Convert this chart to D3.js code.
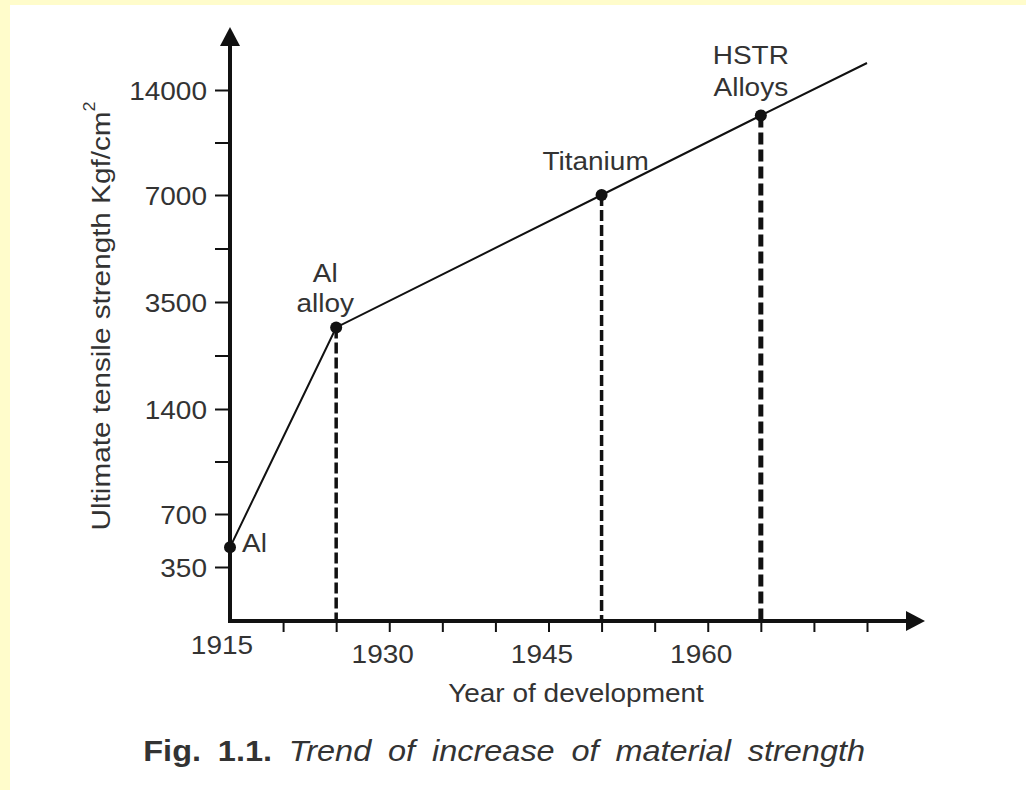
<!DOCTYPE html>
<html>
<head>
<meta charset="utf-8">
<script src="https://cdn.jsdelivr.net/npm/d3@7"></script>
<style>
  html, body { margin: 0; padding: 0; background: #fff; }
  svg { display: block; font-family: "Liberation Sans", Arial, Helvetica, sans-serif; }
</style>
</head>
<body>
<div id="chart"></div>
<script>
// data
const materials = ["Al", "Al alloy", "Titanium", "HSTR Alloys"];
const years = [1915, 1925, 1950, 1965];
const strengths = [480, 3000, 7000, 12300];
const trendEndYear = 1975;
const trendEndStrength = 15800;

const yMajorTicks = [350, 700, 1400, 3500, 7000, 14000];
const yMinorTicks = [1050, 2450, 5250, 10500];
const xTicks = [1920, 1925, 1930, 1935, 1940, 1945, 1950, 1955, 1960, 1965, 1970, 1975];
const xLabelled = [1930, 1945, 1960];
const xOrigin = 1915;

// label placement (offsets from the point, lines of text)
const labelLayout = [
  { lines: ["Al"], dx: 12, dy: [5], anchor: "start" },
  { lines: ["Al", "alloy"], dx: -11, dy: [-45, -15], anchor: "middle" },
  { lines: ["Titanium"], dx: -6, dy: [-25], anchor: "middle" },
  { lines: ["HSTR", "Alloys"], dx: -10, dy: [-52, -20], anchor: "middle" },
];

const width = 1026;
const height = 790;
const SX = 1.12; // the scan is slightly stretched horizontally
const ink = "#111";
const textInk = "#333";

const svg = d3.select("#chart")
  .append("svg")
  .attr("width", width)
  .attr("height", height)
  .attr("viewBox", `0 0 ${width} ${height}`);

// pale yellow page edge
svg.append("rect").attr("width", width).attr("height", height).attr("fill", "#fffccb");
svg.append("rect").attr("x", 10).attr("y", 5).attr("width", width - 10).attr("height", height - 5).attr("fill", "#fff");

const x = d3.scaleLinear().domain([1915, 1975]).range([230, 867]);
// the original axis is not linear: piecewise stops
const y = d3.scaleLinear()
  .domain([0, 350, 700, 1400, 3500, 7000, 14000, 21000])
  .range([621, 567, 514, 409, 302, 195, 90, -15]);

function stretchText(sel, tx, ty, extra = "") {
  return sel.attr("transform", `translate(${tx},${ty}) ${extra} scale(${SX},1)`);
}

// y axis ticks
const yAxis = d3.axisLeft(y)
  .tickValues([...yMajorTicks, ...yMinorTicks])
  .tickSize(15)
  .tickPadding(8)
  .tickFormat((d) => (yMajorTicks.includes(d) ? d : ""));

const gy = svg.append("g").attr("transform", `translate(${x(xOrigin)},0)`).call(yAxis);
gy.select(".domain").remove();
gy.selectAll(".tick line").attr("stroke", ink).attr("stroke-width", 2);
gy.selectAll(".tick text")
  .attr("font-size", 25)
  .attr("fill", textInk)
  .attr("dy", "0.36em")
  .attr("x", -23 / SX)
  .attr("transform", `scale(${SX},1)`);

// x axis ticks
const xAxis = d3.axisBottom(x)
  .tickValues(xTicks)
  .tickSize(11)
  .tickFormat((d) => (xLabelled.includes(d) ? d : ""));

const gx = svg.append("g").attr("transform", `translate(0,${y(0)})`).call(xAxis);
gx.select(".domain").remove();
gx.selectAll(".tick line").attr("stroke", ink).attr("stroke-width", 2);
gx.selectAll(".tick text")
  .attr("font-size", 25)
  .attr("fill", textInk)
  .attr("dy", null)
  .attr("y", 42)
  .attr("x", -7 / SX)
  .attr("transform", `scale(${SX},1)`);

stretchText(
  svg.append("text").attr("font-size", 25).attr("fill", textInk).attr("text-anchor", "middle").text(xOrigin),
  x(xOrigin) - 8, y(0) + 33
);

// axis lines with arrow heads
const ox = x(xOrigin);
const oy = y(0);
svg.append("line")
  .attr("x1", ox).attr("y1", oy + 2).attr("x2", ox).attr("y2", 40)
  .attr("stroke", ink).attr("stroke-width", 4);
svg.append("path")
  .attr("d", `M${ox},27 L${ox - 10},46 L${ox + 10},46 Z`)
  .attr("fill", ink);
svg.append("line")
  .attr("x1", ox - 2).attr("y1", oy).attr("x2", 912).attr("y2", oy)
  .attr("stroke", ink).attr("stroke-width", 4);
svg.append("path")
  .attr("d", `M925,${oy} L906,${oy - 10} L906,${oy + 10} Z`)
  .attr("fill", ink);

// dashed drop lines
const dropStyle = [null, { w: 3.5, dash: "11 4" }, { w: 3.5, dash: "11 4" }, { w: 5, dash: "12 5" }];
years.forEach((yr, i) => {
  if (!dropStyle[i]) return;
  svg.append("line")
    .attr("x1", x(yr)).attr("x2", x(yr))
    .attr("y1", y(strengths[i])).attr("y2", y(0))
    .attr("stroke", ink)
    .attr("stroke-width", dropStyle[i].w)
    .attr("stroke-dasharray", dropStyle[i].dash);
});

// trend line
const pts = years.map((yr, i) => [yr, strengths[i]]).concat([[trendEndYear, trendEndStrength]]);
const line = d3.line().x((d) => x(d[0])).y((d) => y(d[1]));
svg.append("path")
  .attr("d", line(pts))
  .attr("fill", "none")
  .attr("stroke", ink)
  .attr("stroke-width", 2);

// points
svg.append("g")
  .selectAll("circle")
  .data(years.map((yr, i) => ({ yr, v: strengths[i] })))
  .join("circle")
  .attr("cx", (d) => x(d.yr))
  .attr("cy", (d) => y(d.v))
  .attr("r", 6)
  .attr("fill", ink);

// material labels
materials.forEach((name, i) => {
  const lay = labelLayout[i];
  lay.lines.forEach((txt, k) => {
    stretchText(
      svg.append("text")
        .attr("font-size", 25)
        .attr("fill", textInk)
        .attr("text-anchor", lay.anchor)
        .text(txt),
      x(years[i]) + lay.dx,
      y(strengths[i]) + lay.dy[k]
    );
  });
});

// axis titles
const yTitle = svg.append("text")
  .attr("font-size", 26.5)
  .attr("fill", textInk)
  .attr("text-anchor", "middle");
yTitle.append("tspan").text("Ultimate tensile strength Kgf/cm");
yTitle.append("tspan").attr("font-size", 16).attr("dy", -15).text("2");
stretchText(yTitle, 110, 316, "rotate(-90)");

stretchText(
  svg.append("text")
    .attr("font-size", 25)
    .attr("fill", textInk)
    .attr("text-anchor", "middle")
    .text("Year of development"),
  576, 702
);

// caption
const cap = svg.append("text")
  .attr("font-size", 29)
  .attr("fill", textInk)
  .attr("text-anchor", "end")
  .attr("word-spacing", 7);
cap.append("tspan").attr("font-weight", "bold").text("Fig. 1.1.");
cap.append("tspan").attr("font-style", "italic").text(" Trend of increase of material strength");
stretchText(cap, 865, 761);
</script>
</body>
</html>
